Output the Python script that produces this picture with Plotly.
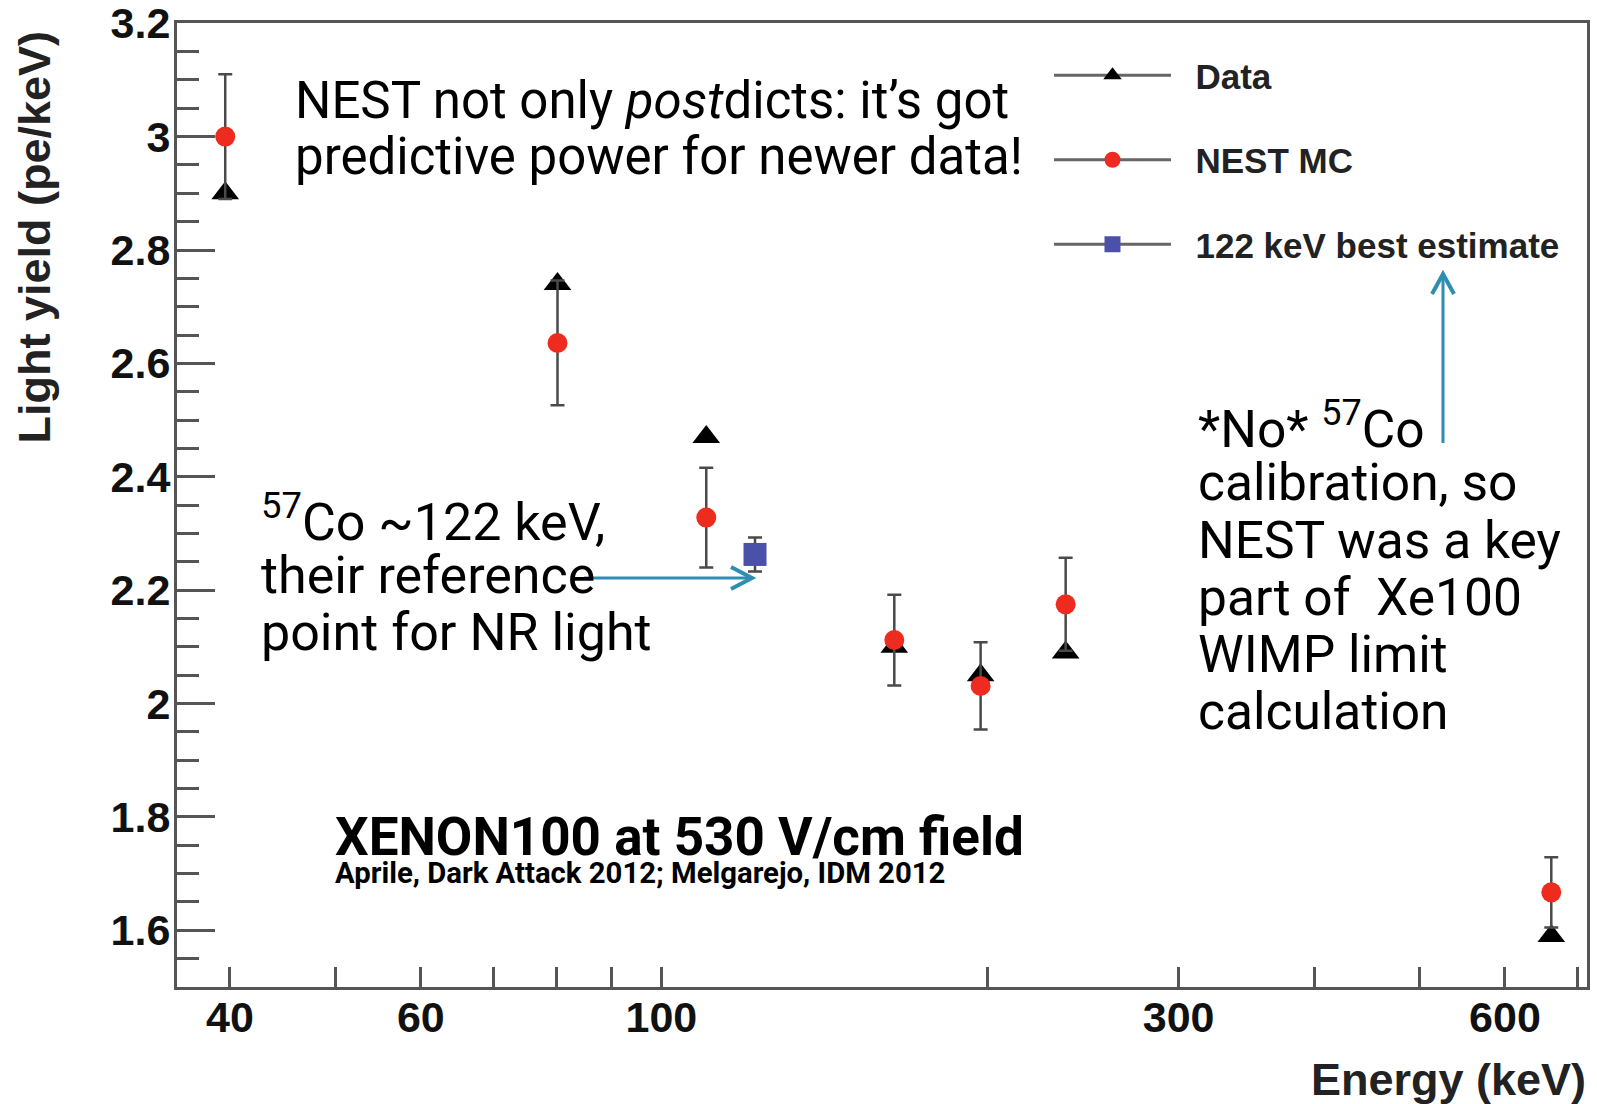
import plotly.graph_objects as go

# ---------------- data ----------------
energy = [39.6, 80.2, 110, 164, 197, 236, 662]
data_ly = [2.90, 2.74, 2.47, 2.10, 2.05, 2.09, 1.59]
nest_ly = [3.00, 2.636, 2.328, 2.112, 2.031, 2.175, 1.667]
nest_err = [0.11, 0.11, 0.088, 0.08, 0.077, 0.082, 0.062]
best_energy = [122]
best_ly = [2.263]
best_err = [0.03]

x_tick_vals = [40, 60, 100, 300, 600]
x_tick_text = ["40", "60", "100", "300", "600"]
x_minor_vals = [50, 70, 80, 90, 200, 400, 500, 700]
x_long_tick = [100]
y_tick_vals = [1.6, 1.8, 2.0, 2.2, 2.4, 2.6, 2.8, 3.0, 3.2]
y_tick_text = ["1.6", "1.8", "2", "2.2", "2.4", "2.6", "2.8", "3", "3.2"]

legend_names = ["Data", "NEST MC", "122 keV best estimate"]

top_note = ["NEST not only <i>post</i>dicts: it’s got",
            "predictive power for newer data!"]
left_note = ["<sup>57</sup>Co ~122 keV,", "their reference", "point for NR light"]
right_note = ["*No* <sup>57</sup>Co", "calibration, so", "NEST was a key",
              "part of\u00a0 Xe100", "WIMP limit", "calculation"]
title_note = "XENON100 at 530 V/cm field"
ref_note = "Aprile, Dark Attack 2012; Melgarejo, IDM 2012"

# ---------------- layout geometry ----------------
W, H = 1597, 1104
L, R, T, B = 177, 1587, 23, 987


def px(x):
    return (x - L) / (R - L)


def py(y):
    return (B - y) / (B - T)


AX = "#555555"
SANS_B = "Liberation Sans, Arial, sans-serif"
SLIDE = "Roboto, Lato, sans-serif"

fig = go.Figure()

fig.add_trace(go.Scatter(
    x=energy, y=data_ly, mode="markers", showlegend=False,
    marker=dict(symbol="triangle-up", size=24, color="#000000"),
))
fig.add_trace(go.Scatter(
    x=energy, y=nest_ly, mode="markers", showlegend=False,
    marker=dict(symbol="circle", size=20, color="#EE2B1F"),
    error_y=dict(type="data", array=nest_err, color="#4a4a4a", thickness=2.5, width=7),
))
fig.add_trace(go.Scatter(
    x=best_energy, y=best_ly, mode="markers", showlegend=False,
    marker=dict(symbol="square", size=23, color="#4B50A8"),
    error_y=dict(type="data", array=best_err, color="#4a4a4a", thickness=2.5, width=7),
))

# legend entries (ROOT style: line + marker)
leg_markers = [dict(symbol="triangle-up", size=16, color="#000000"),
               dict(symbol="circle", size=16, color="#EE2B1F"),
               dict(symbol="square", size=16, color="#4B50A8")]
for i, (nm, mk) in enumerate(zip(legend_names, leg_markers)):
    fig.add_trace(go.Scatter(
        x=[None], y=[None], mode="lines+markers", name="\u00a0\u00a0" + nm,
        line=dict(color="#666666", width=3), marker=mk, legendgroup=f"g{i}",
    ))

fig.update_layout(
    template="none",
    width=W, height=H, autosize=False,
    margin=dict(l=L, r=W - R, t=T, b=H - B, pad=0),
    paper_bgcolor="white", plot_bgcolor="white",
    showlegend=True,
    legend=dict(
        x=px(1049), y=py(46), xanchor="left", yanchor="top",
        bgcolor="rgba(0,0,0,0)", borderwidth=0,
        font=dict(family=SANS_B, size=35, color="#222222", weight="bold"),
        itemwidth=117, traceorder="grouped", tracegroupgap=36,
        itemclick=False, itemdoubleclick=False,
    ),
    xaxis=dict(
        type="log", range=[1.5532, 2.8538], automargin=False,
        showgrid=False, zeroline=False,
        showline=True, linecolor=AX, linewidth=3, mirror=True,
        tickmode="array", tickvals=x_tick_vals, ticktext=x_tick_text,
        ticks="inside", ticklen=20, tickwidth=2.5, tickcolor=AX,
        ticklabelstandoff=-10, ticklabeloverflow="allow",
        tickfont=dict(family=SANS_B, size=43, color="#111111", weight="bold"),
        minor=dict(tickmode="array", tickvals=x_minor_vals, ticks="inside",
                   ticklen=20, tickwidth=2.5, tickcolor=AX, showgrid=False),
    ),
    xaxis2=dict(
        type="log", range=[1.5532, 2.8538], overlaying="x", anchor="y",
        side="bottom", automargin=False, showgrid=False, zeroline=False,
        showline=False, tickmode="array", tickvals=x_long_tick,
        ticks="inside", ticklen=34, tickwidth=2.5, tickcolor=AX,
        showticklabels=False,
    ),
    yaxis=dict(
        range=[1.5, 3.2004], automargin=False,
        showgrid=False, zeroline=False,
        showline=True, linecolor=AX, linewidth=3, mirror=True,
        tickmode="array", tickvals=y_tick_vals, ticktext=y_tick_text,
        ticks="inside", ticklen=38, tickwidth=2.5, tickcolor=AX,
        ticklabelstandoff=-5, ticklabeloverflow="allow",
        tickfont=dict(family=SANS_B, size=43, color="#111111", weight="bold"),
        minor=dict(tickmode="linear", tick0=1.5, dtick=0.05, ticks="inside",
                   ticklen=22, tickwidth=2.5, tickcolor=AX, showgrid=False),
    ),
)

ann = []
# axis titles (ROOT style, aligned to the ends of the axes)
ann.append(dict(text="Energy (keV)", xref="paper", yref="paper",
                x=px(1588), y=py(1079), xanchor="right", yanchor="middle",
                showarrow=False,
                font=dict(family=SANS_B, size=45, color="#222222", weight="bold")))
ann.append(dict(text="Light yield (pe/keV)", xref="paper", yref="paper",
                x=px(34), y=py(29), xanchor="center", yanchor="top",
                textangle=-90, showarrow=False,
                font=dict(family=SANS_B, size=45, color="#222222", weight="bold")))

for i, t in enumerate(top_note):
    ann.append(dict(text=t, xref="paper", yref="paper", x=px(293), y=py(100 + 57 * i),
                    xanchor="left", yanchor="middle", showarrow=False,
                    font=dict(family=SLIDE, size=51, color="#000000")))
for i, t in enumerate(left_note):
    ann.append(dict(text=t, xref="paper", yref="paper", x=px(259), y=py(518 + 57 * i),
                    xanchor="left", yanchor="middle", showarrow=False,
                    font=dict(family=SLIDE, size=52, color="#000000")))
for i, t in enumerate(right_note):
    ann.append(dict(text=t, xref="paper", yref="paper", x=px(1196), y=py(426 + 57 * i),
                    xanchor="left", yanchor="middle", showarrow=False,
                    font=dict(family=SLIDE, size=51.5, color="#000000")))
ann.append(dict(text=title_note, xref="paper", yref="paper", x=px(333), y=py(837),
                xanchor="left", yanchor="middle", showarrow=False,
                font=dict(family=SLIDE, size=53, color="#000000", weight="bold")))
ann.append(dict(text=ref_note, xref="paper", yref="paper", x=px(333), y=py(873),
                xanchor="left", yanchor="middle", showarrow=False,
                font=dict(family=SLIDE, size=29.3, color="#000000", weight="bold")))
fig.update_layout(annotations=ann)

# callout arrows
ARC = "#2F8DB2"


def path(points):
    return "M " + " L ".join(f"{px(a)},{py(b)}" for a, b in points)


shapes = [
    dict(type="path", xref="paper", yref="paper", path=path([(584, 578), (752, 578)]),
         line=dict(color=ARC, width=3)),
    dict(type="path", xref="paper", yref="paper",
         path=path([(731, 567), (752, 578), (731, 589)]), line=dict(color=ARC, width=4)),
    dict(type="path", xref="paper", yref="paper", path=path([(1443, 443), (1443, 274)]),
         line=dict(color=ARC, width=3)),
    dict(type="path", xref="paper", yref="paper",
         path=path([(1432, 294), (1443, 274), (1454, 294)]), line=dict(color=ARC, width=4)),
]
fig.update_layout(shapes=shapes)

fig.write_html("out.html")
